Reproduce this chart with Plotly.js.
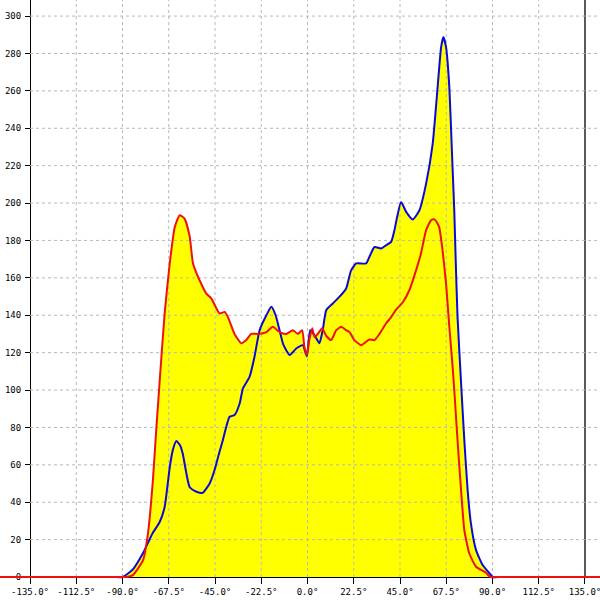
<!DOCTYPE html>
<html>
<head>
<meta charset="utf-8">
<script src="https://cdn.plot.ly/plotly-3.0.1.min.js"></script>
<style>html,body{margin:0;padding:0;background:#fff}#chart{width:600px;height:600px}</style>
</head>
<body>
<div id="chart"></div>
<script>
// Angle axis ticks (degrees) and count ticks
const xTicks = [-135, -112.5, -90, -67.5, -45, -22.5, 0, 22.5, 45, 67.5, 90, 112.5, 135];
const yTicks = [0, 20, 40, 60, 80, 100, 120, 140, 160, 180, 200, 220, 240, 260, 280, 300];

// Blue series
const blueX = [-150, -130, -110, -100, -94, -90, -85, -80, -75.3, -71.9, -69.5, -67, -65.5, -63.8, -62, -60.7, -57.3, -54, -51, -47.6, -45.2, -42.8, -41.2, -37.9, -35.5, -33, -31.4, -28.2, -25.8, -23.3, -20, -17.6, -15.5, -13.6, -12, -11.2, -8.7, -5.5, -2.3, -1, -0.3, 1.3, 3.4, 5.8, 7.4, 9.1, 12.3, 15.5, 18.8, 21.2, 23.7, 28.5, 30.1, 32.6, 35.8, 38.2, 40.7, 42.3, 43.5, 45.5, 48, 51.2, 54.4, 57.7, 60.9, 63.3, 65, 66.1, 67.4, 69, 70.3, 71.4, 72.2, 73, 74.7, 76.3, 77.9, 79.5, 82, 85.2, 89.3, 90, 94, 100, 110, 130, 150];
const blueY = [0, 0, 0, 0, 0, 0, 4, 12.8, 23.5, 29.4, 37.4, 58.8, 68, 72.7, 70.5, 66, 48, 45.6, 45, 50, 57.2, 67, 73.2, 85.7, 86.6, 92.8, 100.9, 107, 117.7, 132, 140, 144.5, 140, 132, 125, 123, 118.7, 122.2, 124, 120, 118, 132, 129.3, 125, 132, 142.7, 146.3, 149.8, 154.3, 164, 167.7, 167.7, 171.2, 176.5, 175.7, 177.4, 179.2, 185.5, 192, 200.6, 195.3, 191.2, 196, 210.4, 231.7, 262, 283.4, 288.8, 283.4, 262, 226.5, 196, 165.8, 139, 104, 73, 46.5, 28.7, 14.4, 6.4, 1, 0, 0, 0, 0, 0, 0];

// Red series
const redX = [-150, -130, -110, -100, -93, -88, -85, -80, -77.6, -75.2, -73.6, -71.9, -69.5, -67, -64.6, -62.2, -59.8, -57.3, -55.7, -52.5, -49.2, -46.8, -42.8, -40.3, -38.7, -35.5, -32.2, -29.8, -27.4, -24.1, -20, -16.9, -13.6, -10.4, -7.1, -4.7, -2.6, -1.5, -0.3, 1, 2.3, 3.4, 5, 7.1, 9.1, 11.5, 14, 16.4, 18.8, 20.4, 22.8, 26.1, 30.1, 32.6, 35, 38.2, 40.7, 43.1, 46.3, 49.6, 52.8, 55.2, 57.7, 60.1, 61.7, 63.3, 64.1, 65.7, 67.4, 69, 70.6, 71.4, 73, 74.7, 76.3, 78.7, 82, 86.8, 89, 93, 100, 110, 130, 150];
const redY = [0, 0, 0, 0, 0, 0, 1, 9, 23.5, 52, 78.6, 105, 141, 168, 187, 193.5, 191.7, 182, 167.7, 158.7, 151.6, 149, 141, 141.8, 139, 130, 125, 126.7, 130, 130, 131, 133.8, 131, 130, 132, 130, 132, 123, 118.7, 127.5, 133, 128.4, 130, 133, 129, 126.7, 132, 133.8, 132, 131, 126.7, 124, 127, 126.7, 130, 135.6, 139, 143, 146.8, 153.5, 164, 173, 185.5, 190.8, 191.3, 189, 187, 174.8, 157, 133.8, 112.4, 100, 73, 46.5, 25, 12.7, 5.5, 2.3, 0, 0, 0, 0, 0, 0];

const FONT = {family: 'DejaVu Sans Mono, monospace', size: 9, color: '#000'};
const GRID = {color: '#b8b8b8', width: 1, dash: '3px,3px'};
const SMOOTH = {shape: 'spline', smoothing: 0.5};

// Grid lines built from tick arrays (drawn above the yellow fill)
const gvX = [], gvY = [];
xTicks.filter(v => Math.abs(v) !== 135).forEach(v => { gvX.push(v, v, null); gvY.push(0, 320, null); });
const ghX = [], ghY = [];
yTicks.filter(v => v !== 0).forEach(v => { ghX.push(-135, 150, null); ghY.push(v, v, null); });

const traces = [
  {x: blueX, y: blueY, mode: 'lines', fill: 'tozeroy', fillcolor: '#ffff00', line: Object.assign({width: 0, color: 'rgba(0,0,0,0)'}, SMOOTH), hoverinfo: 'skip'},
  {x: redX, y: redY, mode: 'lines', fill: 'tozeroy', fillcolor: '#ffff00', line: Object.assign({width: 0, color: 'rgba(0,0,0,0)'}, SMOOTH), hoverinfo: 'skip'},
  {x: gvX, y: gvY, mode: 'lines', line: GRID, hoverinfo: 'skip'},
  {x: ghX, y: ghY, mode: 'lines', line: GRID, hoverinfo: 'skip'},
  {x: blueX, y: blueY, mode: 'lines', line: Object.assign({color: '#0a0ad8', width: 2}, SMOOTH)},
  {x: redX, y: redY, mode: 'lines', line: Object.assign({color: '#ee1111', width: 2}, SMOOTH)}
];

const layout = {
  width: 600, height: 600,
  margin: {l: 0, r: 0, t: 0, b: 0, pad: 0},
  paper_bgcolor: '#fff', plot_bgcolor: 'rgba(0,0,0,0)',
  showlegend: false, hovermode: false,
  shapes: [
    {type: 'line', xref: 'x', yref: 'y', x0: 135, x1: 135, y0: 0, y1: 320, line: {color: '#000', width: 1.3}, layer: 'below'}
  ],
  xaxis: {
    range: [-149.6, 142.3], domain: [0, 1],
    anchor: 'free', position: 23/600,
    tickmode: 'array', tickvals: xTicks,
    ticktext: xTicks.map(v => v.toFixed(1) + '°'),
    ticks: 'outside', ticklen: 6, tickcolor: '#000', tickwidth: 1,
    ticklabeloverflow: 'allow',
    showline: true, linecolor: '#000', linewidth: 1,
    showgrid: false, zeroline: false, tickfont: FONT,
    layer: 'below traces', fixedrange: true
  },
  yaxis: {
    range: [-3.2, 308.6], domain: [17/600, 1],
    anchor: 'free', position: 30/600,
    tickmode: 'array', tickvals: yTicks,
    ticktext: yTicks.map(v => String(v)),
    ticks: 'outside', ticklen: 5, tickcolor: '#000', tickwidth: 1,
    ticklabelstandoff: 2, ticklabeloverflow: 'allow',
    showline: true, linecolor: '#000', linewidth: 1.3,
    showgrid: false, zeroline: false, tickfont: FONT,
    layer: 'below traces', fixedrange: true
  }
};

Plotly.newPlot('chart', traces, layout, {staticPlot: true, displayModeBar: false});
</script>
</body>
</html>
